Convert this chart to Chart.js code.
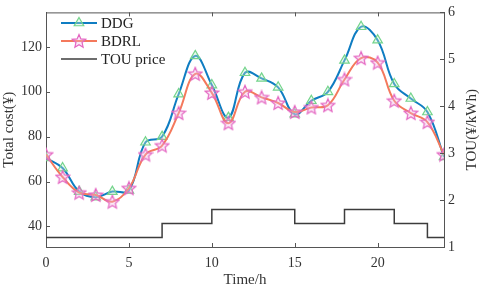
<!DOCTYPE html>
<html>
<head>
<meta charset="utf-8">
<script src="https://cdn.jsdelivr.net/npm/chart.js@4/dist/chart.umd.min.js"></script>
<style>
  html, body { margin: 0; padding: 0; background: #fff; }
  #wrap { width: 484px; height: 289px; }
</style>
</head>
<body>
<div id="wrap"><canvas id="grafica" width="484" height="289"></canvas></div>
<script>
// datos
const horas = [0,1,2,3,4,5,6,7,8,9,10,11,12,13,14,15,16,17,18,19,20,21,22,23,24];
const ddg  = [70.5,66,55.5,53,55.5,56,77.5,80,99,116,103,88.5,108.5,106,102,90,96,100,114,129,123,103.5,97,91,71];
const bdrl = [72,62,55,54,51,57,72,76,90.5,108,99.5,86,100,97.5,95,91,93,94,105.5,115,113,96,90.5,86.5,72];
const horasTou = [0,7,10,15,18,21,23,24];
const precioTou = [1.2,1.5,1.8,1.5,1.8,1.5,1.2,1.2];
const ticksX = [0,5,10,15,20];
const ticksCosto = [40,60,80,100,120];
const ticksTou = [1,2,3,4,5,6];

const fuente = "'Liberation Serif', 'DejaVu Serif', serif";
const azul = "#0f7dc2", verde = "#74d48c", naranja = "#f4795c", rosa = "#e466c2", gris = "#3c3c3c";

// estrella de 5 puntas como imagen para el marcador
function hacerEstrella() {
  const c = document.createElement("canvas");
  c.width = 16; c.height = 16;
  const g = c.getContext("2d");
  g.beginPath();
  for (let i = 0; i < 10; i++) {
    const r = i % 2 === 0 ? 7 : 3.2;
    const ang = -Math.PI / 2 + i * Math.PI / 5;
    const px = 8 + r * Math.cos(ang), py = 8.5 + r * Math.sin(ang);
    if (i === 0) g.moveTo(px, py); else g.lineTo(px, py);
  }
  g.closePath();
  g.fillStyle = "rgba(240,190,230,0.35)";
  g.fill();
  g.strokeStyle = rosa;
  g.lineWidth = 1.2;
  g.stroke();
  return c;
}
const estrella = hacerEstrella();

// marcas de ticks hacia dentro, borde superior, titulo derecho y leyenda
const marco = {
  id: "marco",
  afterDraw(chart) {
    const ctx = chart.ctx;
    const a = chart.chartArea;
    const x = chart.scales.x, y = chart.scales.y, y1 = chart.scales.y1;
    ctx.save();
    ctx.strokeStyle = "#555";
    ctx.lineWidth = 1;
    ctx.beginPath();
    ctx.moveTo(a.left, a.top + 0.5); ctx.lineTo(a.right, a.top + 0.5);
    ticksX.forEach((t) => {
      const px = Math.round(x.getPixelForValue(t)) + 0.5;
      ctx.moveTo(px, a.bottom); ctx.lineTo(px, a.bottom - 4);
      ctx.moveTo(px, a.top); ctx.lineTo(px, a.top + 4);
    });
    ticksCosto.forEach((t) => {
      const py = Math.round(y.getPixelForValue(t)) + 0.5;
      ctx.moveTo(a.left, py); ctx.lineTo(a.left + 4, py);
    });
    ticksTou.forEach((t) => {
      const py = Math.round(y1.getPixelForValue(t)) + 0.5;
      ctx.moveTo(a.right, py); ctx.lineTo(a.right - 4, py);
    });
    ctx.stroke();

    // titulo del eje derecho, leido de abajo hacia arriba
    ctx.save();
    ctx.translate(472, (a.top + a.bottom) / 2);
    ctx.rotate(-Math.PI / 2);
    ctx.font = "15px " + fuente;
    ctx.fillStyle = "#333";
    ctx.textAlign = "center";
    ctx.textBaseline = "middle";
    ctx.fillText("TOU(¥/kWh)", 0, 0);
    ctx.restore();

    // leyenda
    const filas = [
      { texto: "DDG", color: azul, marca: "triangle", borde: verde, radio: 5.5 },
      { texto: "BDRL", color: naranja, marca: estrella, borde: rosa, radio: 6.5 },
      { texto: "TOU price", color: gris, marca: null },
    ];
    ctx.font = "15px " + fuente;
    ctx.textBaseline = "middle";
    filas.forEach((f, i) => {
      const yy = 23 + i * 18;
      ctx.strokeStyle = f.color;
      ctx.lineWidth = f.marca ? 2 : 1.5;
      ctx.beginPath(); ctx.moveTo(61, yy); ctx.lineTo(97, yy); ctx.stroke();
      if (f.marca) {
        ctx.strokeStyle = f.borde; ctx.fillStyle = "rgba(200,240,205,0.35)"; ctx.lineWidth = 1.2;
        Chart.helpers.drawPoint(ctx, { pointStyle: f.marca, radius: f.radio, rotation: 0, borderWidth: 1.2 }, 79, yy);
      }
      ctx.fillStyle = "#222";
      ctx.fillText(f.texto, 101, yy + 1);
    });
    ctx.restore();
  },
};

const puntos = (xs, ys) => xs.map((h, i) => ({ x: h, y: ys[i] }));

const config = {
  type: "line",
  data: {
    datasets: [
      {
        label: "DDG",
        data: puntos(horas, ddg),
        yAxisID: "y",
        borderColor: azul,
        borderWidth: 2,
        tension: 0.4,
        pointStyle: "triangle",
        pointRadius: 5.5,
        pointBorderColor: verde,
        pointBackgroundColor: "rgba(200,240,205,0.35)",
        pointBorderWidth: 1.2,
        order: 2,
      },
      {
        label: "BDRL",
        data: puntos(horas, bdrl),
        yAxisID: "y",
        borderColor: naranja,
        borderWidth: 2,
        tension: 0.4,
        pointStyle: estrella,
        pointRadius: 6.5,
        order: 1,
      },
      {
        label: "TOU price",
        data: puntos(horasTou, precioTou),
        yAxisID: "y1",
        borderColor: gris,
        borderWidth: 1.5,
        stepped: true,
        pointRadius: 0,
        order: 3,
      },
    ],
  },
  options: {
    responsive: false,
    animation: false,
    events: [],
    layout: { padding: { top: 6, left: 0, right: 0, bottom: 0 } },
    plugins: { legend: { display: false }, tooltip: { enabled: false } },
    scales: {
      x: {
        type: "linear",
        min: 0,
        max: 24,
        afterBuildTicks: (s) => { s.ticks = ticksX.map((v) => ({ value: v })); },
        afterFit: (s) => { s.height = 42; },
        grid: { display: false, drawTicks: false },
        border: { color: "#555", width: 1 },
        ticks: { color: "#333", font: { family: fuente, size: 14 }, padding: 8 },
        title: { display: true, text: "Time/h", color: "#333", font: { family: fuente, size: 15 }, padding: { top: 0, bottom: 0 } },
      },
      y: {
        position: "left",
        min: 30.8,
        max: 135.4,
        afterBuildTicks: (s) => { s.ticks = ticksCosto.map((v) => ({ value: v })); },
        afterFit: (s) => { s.width = 46; },
        grid: { display: false, drawTicks: false },
        border: { color: "#555", width: 1 },
        ticks: { color: "#333", font: { family: fuente, size: 14 }, padding: 4 },
        title: { display: true, text: "Total cost(¥)", color: "#333", font: { family: fuente, size: 15 }, padding: { top: 0, bottom: 0 } },
      },
      y1: {
        position: "right",
        min: 1,
        max: 6,
        afterBuildTicks: (s) => { s.ticks = ticksTou.map((v) => ({ value: v })); },
        afterFit: (s) => { s.width = 40; },
        grid: { display: false, drawTicks: false },
        border: { color: "#555", width: 1 },
        ticks: { color: "#333", font: { family: fuente, size: 14 }, padding: 4 },
        title: { display: false },
      },
    },
  },
  plugins: [marco],
};

new Chart(document.getElementById("grafica"), config);
</script>
</body>
</html>
